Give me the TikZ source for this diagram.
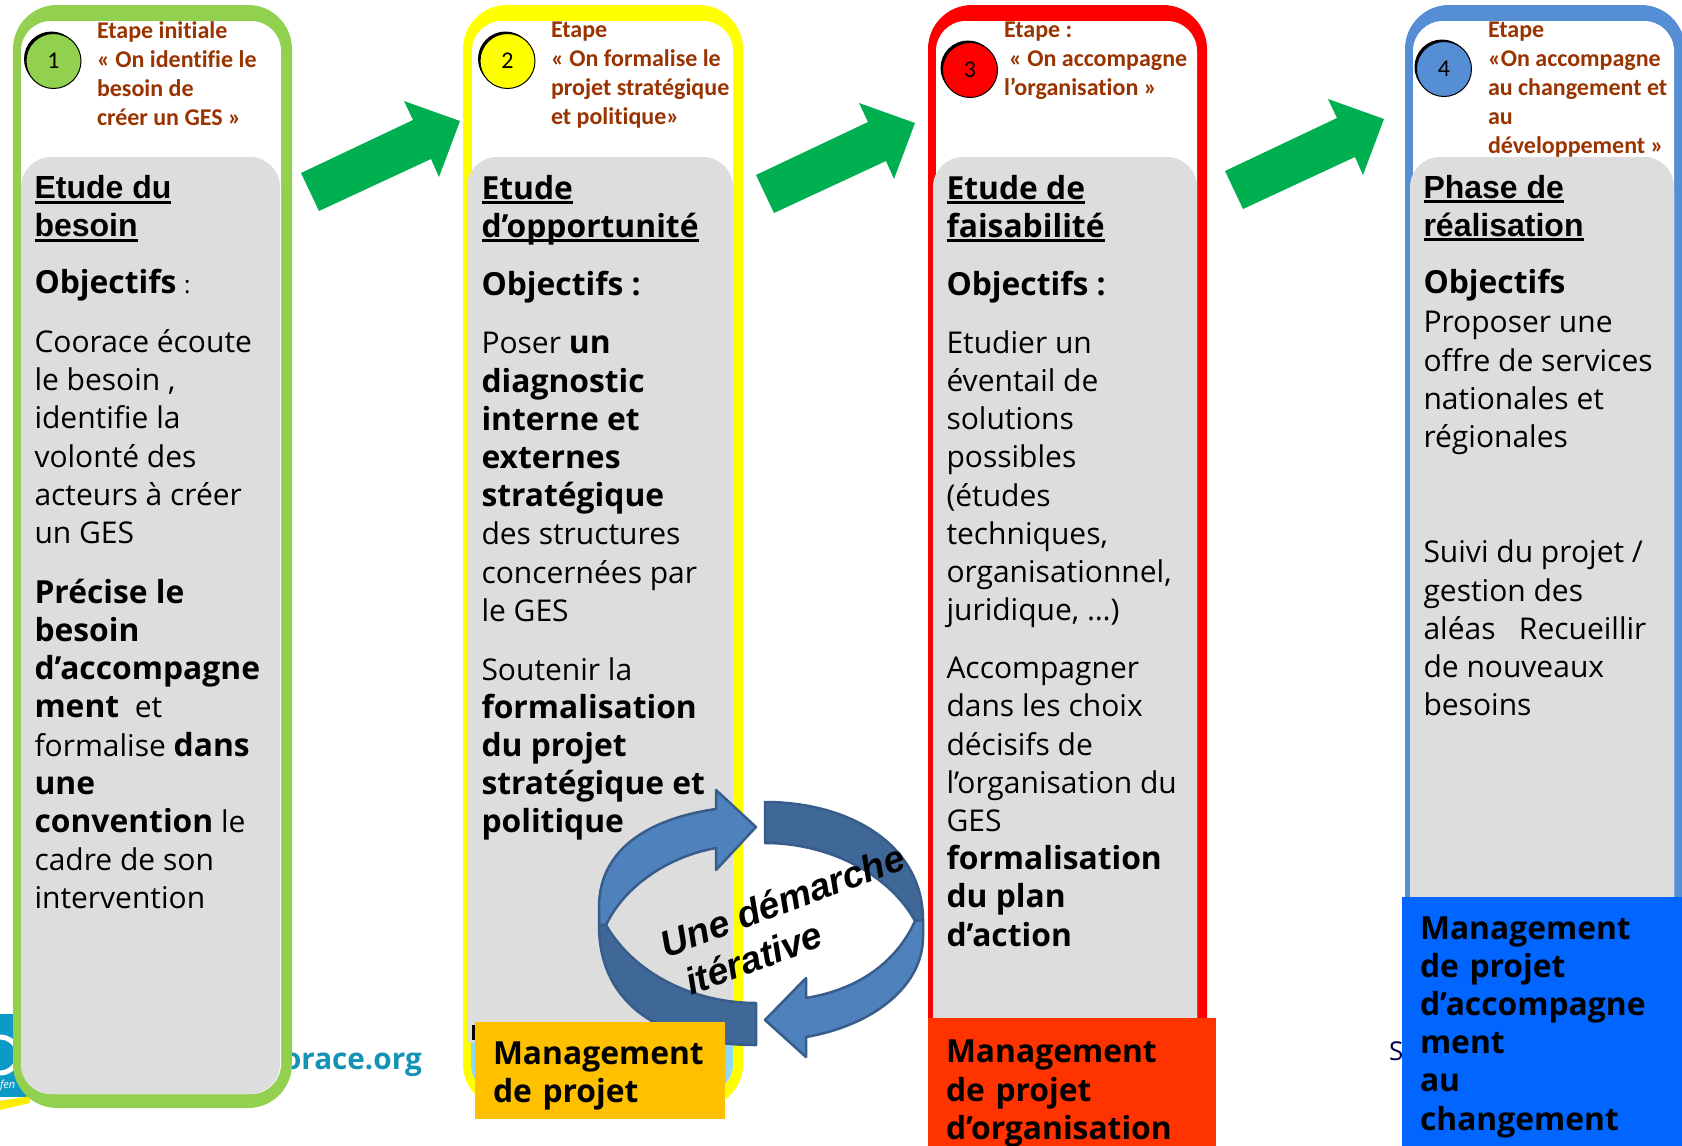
\documentclass[tikz,border=0pt]{standalone}
\usepackage{fontspec}
\setmainfont[BoldFeatures={Scale=1.06}]{Open Sans}
\newfontfamily\titrefont{Liberation Sans}
\newfontfamily\etapefont[Ligatures=NoCommon]{Carlito}
\usetikzlibrary{positioning}
\definecolor{vertcadre}{HTML}{92D050}
\definecolor{jaunecadre}{HTML}{FFFF00}
\definecolor{rougecadre}{HTML}{FF0000}
\definecolor{bleucadre}{HTML}{558ED5}
\definecolor{grisfond}{HTML}{DDDDDD}
\definecolor{vertfleche}{HTML}{00B050}
\definecolor{brunetape}{HTML}{993300}
\definecolor{bleuclair}{HTML}{4F81BD}
\definecolor{bleusombre}{HTML}{3F6797}
\definecolor{bleutrait}{HTML}{385D8A}
\definecolor{ciel}{HTML}{8FD8F8}
\definecolor{orangeboite}{HTML}{FFC000}
\definecolor{rougeboite}{HTML}{FF3300}
\definecolor{bleuboite}{HTML}{0066FF}
\definecolor{sarcelle}{HTML}{1493B5}
\definecolor{logobleu}{HTML}{0E9AC6}
\newcommand{\souligne}[1]{\setbox0\hbox{#1}\rlap{\rule[-5pt]{\wd0}{3pt}}\box0}

\begin{document}
\begin{tikzpicture}[x=1pt, y=-1pt, inner sep=0pt, outer sep=0pt,]
   \tikzstyle{every node}=[anchor=north west, align=left]
   \tikzstyle{cadre}=[rectangle, rounded corners=44pt, draw=none]
   \tikzstyle{creux}=[rectangle, rounded corners=30pt, draw=none, fill=white]
   \tikzstyle{fond}=[rectangle, rounded corners=30pt, draw=none, fill=grisfond]
   \tikzstyle{puce}=[circle, anchor=center, draw=black, line width=1pt, minimum size=55pt, font=\etapefont\fontsize{24}{29}\selectfont]
   \tikzstyle{ombre}=[circle, anchor=center, fill=black, minimum size=55pt]
   \tikzstyle{etape}=[text=brunetape, font=\etapefont\bfseries\fontsize{24}{29}\selectfont]
   \tikzstyle{titre}=[font=\titrefont\bfseries\fontsize{32}{38.2}\selectfont, execute at begin node=\strut, execute at end node=\strut]
   \tikzstyle{corps}=[font=\fontsize{30}{38.2}\selectfont, execute at begin node=\strut, execute at end node=\strut]
   \tikzstyle{boite}=[font=\bfseries\fontsize{30}{38.2}\selectfont, inner xsep=18pt, execute at begin node={\rule{0pt}{34pt}}]
   \tikzstyle{fleche}=[fill=vertfleche, draw=none]
   \tikzstyle{clair}=[fill=bleuclair, draw=bleutrait, line width=2.5pt, line join=round]
   \tikzstyle{sombre}=[fill=bleusombre, draw=bleutrait, line width=2.5pt, line join=round]

   \clip (0,0) rectangle (1682,1146);
   \fill[white] (0,0) rectangle (1682,1146);

   % morceaux du logo sous les cadres
   \fill[logobleu] (0,1014) rectangle (30,1097);
   \draw[white, line width=5pt] (0,1055) circle (18pt);
   \fill[jaunecadre!85!orange] (0,1101) -- (30,1096) -- (30,1103) -- (0,1110) -- cycle;
   \node[text=white, font=\itshape\fontsize{11}{12}\selectfont] (logo_texte) at (0,1080) {fen};
   \node[text=sarcelle, font=\bfseries\fontsize{28}{30}\selectfont] (logo_site) at (283,1053) {orace.org};
   \node[text=black!70!blue, font=\fontsize{26}{28}\selectfont] (logo_lettre) at (1389,1042) {S};

   \node[cadre, fill=vertcadre, minimum width=279pt, minimum height=1103pt] (cadre_un) at (13,5) {};
   \node[creux, minimum width=260pt, minimum height=1073pt] (creux_un) at (21,21) {};
   \node[fond, minimum width=259pt, minimum height=937pt] (fond_un) at (21,157) {};

   \node[cadre, fill=jaunecadre, minimum width=280pt, minimum height=1103pt] (cadre_deux) at (463,5) {};
   \node[creux, minimum width=261pt, minimum height=1073pt] (creux_deux) at (472,21) {};
   \node[creux, fill=ciel, minimum width=262pt, minimum height=120pt] (ciel_deux) at (471,974) {};
   \node[fond, rounded corners=0pt, minimum width=266pt, minimum height=200pt] (bas_deux) at (467,842) {};
   \node[fond, minimum width=266pt, minimum height=800pt] (fond_deux) at (467,157) {};
   \fill[black] (472,1025) rectangle (476,1040);

   \node[cadre, fill=rougecadre, minimum width=279pt, minimum height=1103pt] (cadre_trois) at (928,5) {};
   \node[creux, minimum width=261pt, minimum height=1073pt] (creux_trois) at (936,21) {};
   \node[fond, minimum width=264pt, minimum height=937pt] (fond_trois) at (933,157) {};

   \node[cadre, fill=bleucadre, minimum width=280pt, minimum height=1103pt] (cadre_quatre) at (1405,5) {};
   \node[creux, minimum width=261pt, minimum height=1073pt] (creux_quatre) at (1413,21) {};
   \node[fond, minimum width=264pt, minimum height=937pt] (fond_quatre) at (1410,157) {};

   \fill[fleche] (301,173) -- (413,120) -- (404,101) -- (460,121) -- (439,177) -- (431,159) -- (319,211) -- cycle;
   \fill[fleche] (756,175) -- (868,122) -- (859,103) -- (915,123) -- (894,179) -- (886,161) -- (774,213) -- cycle;
   \fill[fleche] (1225,171) -- (1337,118) -- (1328,99) -- (1384,119) -- (1363,175) -- (1355,157) -- (1243,209) -- cycle;

   \node[ombre] (ombre_un) at (51.5,59) {};
   \node[puce, fill=vertcadre] (puce_un) at (53.5,61) {\raisebox{-2pt}{1}};
   \node[ombre] (ombre_deux) at (505.5,59) {};
   \node[puce, fill=jaunecadre] (puce_deux) at (507.5,61) {\raisebox{-2pt}{2}};
   \node[ombre] (ombre_trois) at (968,68) {};
   \node[puce, fill=rougecadre] (puce_trois) at (970,70) {\raisebox{-2pt}{3}};
   \node[ombre] (ombre_quatre) at (1442,67) {};
   \node[puce, fill=bleucadre] (puce_quatre) at (1444,69) {\raisebox{-2pt}{4}};

   \node[etape] (etape_un) at (97,22) {Etape initiale\\« On identifie le\\besoin de\\créer un GES »};
   \node[etape] (etape_deux) at (551,22) {Etape\\« On formalise le\\projet stratégique\\et politique»};
   \node[etape] (etape_trois) at (1004,22) {Etape :\\\hspace*{5pt}« On accompagne\\l’organisation »};
   \node[etape] (etape_quatre) at (1488,22) {Etape\\«On accompagne\\au changement et\\au\\développement »};

   \node[titre] (titre_un) at (34.5,175.5) {\souligne{Etude du}\\\souligne{besoin}};
   \node[corps] (objectifs_un) [below=18pt of titre_un.south west, anchor=north west] {\textbf{Objectifs} {\fontsize{24}{30}\selectfont:}};
   \node[corps] (ecoute) [below=25pt of objectifs_un.south west, anchor=north west] {Coorace écoute\\le besoin ,\\identifie la\\volonté des\\acteurs à créer\\un GES};
   \node[corps] (precise) [below=24pt of ecoute.south west, anchor=north west] {\textbf{Précise le}\\\textbf{besoin}\\\textbf{d’accompagne}\\\textbf{ment}\ \ et\\formalise \textbf{dans}\\\textbf{une}\\\textbf{convention} le\\cadre de son\\intervention};

   \node[titre, font=\bfseries\fontsize{30}{38.2}\selectfont] (titre_deux) at (481.5,175) {\souligne{Etude}\\\souligne{d’opportunité}};
   \node[corps] (objectifs_deux) [below=19.5pt of titre_deux.south west, anchor=north west] {\textbf{Objectifs :}};
   \node[corps] (diagnostic) [below=26pt of objectifs_deux.south west, anchor=north west] {Poser \textbf{un}\\\textbf{diagnostic}\\\textbf{interne et}\\\textbf{externes}\\\textbf{stratégique}\\des structures\\concernées par\\le GES};
   \node[corps] (soutenir) [below=24.5pt of diagnostic.south west, anchor=north west] {Soutenir la\\\textbf{formalisation}\\\textbf{du projet}\\\textbf{stratégique et}\\\textbf{politique}};

   \node[titre, font=\bfseries\fontsize{30}{38.2}\selectfont] (titre_trois) at (946.5,175) {\souligne{Etude de}\\\souligne{faisabilité}};
   \node[corps] (objectifs_trois) [below=19.5pt of titre_trois.south west, anchor=north west] {\textbf{Objectifs :}};
   \node[corps] (eventail) [below=24pt of objectifs_trois.south west, anchor=north west] {Etudier un\\éventail de\\solutions\\possibles\\(études\\techniques,\\organisationnel,\\juridique, …)};
   \node[corps] (accompagner) [below=25pt of eventail.south west, anchor=north west] {Accompagner\\dans les choix\\décisifs de\\l’organisation du\\GES\\\textbf{formalisation}\\\textbf{du plan}\\\textbf{d’action}};

   \node[titre] (titre_quatre) at (1423.5,175) {\souligne{Phase de}\\\souligne{réalisation}};
   \node[corps] (objectifs_quatre) [below=19pt of titre_quatre.south west, anchor=north west] {\textbf{Objectifs}};
   \node[corps] (proposer) [below=6.5pt of objectifs_quatre.south west, anchor=north west] {Proposer une\\offre de services\\nationales et\\régionales};
   \node[corps] (suivi) [below=81pt of proposer.south west, anchor=north west] {Suivi du projet /\\gestion des\\aléas\ \ \ Recueillir\\de nouveaux\\besoins};

   \path[clair] (599,925) -- (599,907) .. controls (599,855) and (640,820) .. (716,809) -- (716,790) -- (756,827) -- (716,870) -- (716,848) .. controls (670,856) and (625,885) .. (606,925) -- cycle;
   \path[sombre] (606,925) .. controls (635,975) and (695,1003) .. (756,1003) -- (756,1045) .. controls (670,1045) and (599,1010) .. (599,925) -- cycle;
   \path[sombre] (765,802) .. controls (850,802) and (923,845) .. (923,920) -- (915,921) .. controls (890,875) and (830,843) .. (765,843) -- cycle;
   \path[clair] (915,921) -- (923,920) -- (923,937) .. controls (923,985) and (875,1025) .. (806,1037) -- (806,1057) -- (765,1020) -- (806,978) -- (806,998) .. controls (855,990) and (895,965) .. (915,921) -- cycle;

   \node[boite, fill=orangeboite, minimum width=250pt, minimum height=97pt, text width=214pt] (boite_deux) at (475,1022) {Management\\de projet};
   \node[boite, fill=rougeboite, minimum width=288pt, minimum height=140pt, text width=252pt] (boite_trois) at (928,1018) {Management\\de projet\\d’organisation};
   \node[boite, fill=bleuboite, minimum width=280pt, minimum height=249pt, text width=244pt] (boite_quatre) at (1402,897) {Management\\de projet\\d’accompagne\\ment\\au\\changement};

   \node[anchor=center, rotate=20.5, font=\titrefont\bfseries\itshape\fontsize{37.4}{44}\selectfont] (demarche) at (790,921) {Une démarche\\\hspace*{10pt}itérative};
 \end{tikzpicture}
\end{document}
